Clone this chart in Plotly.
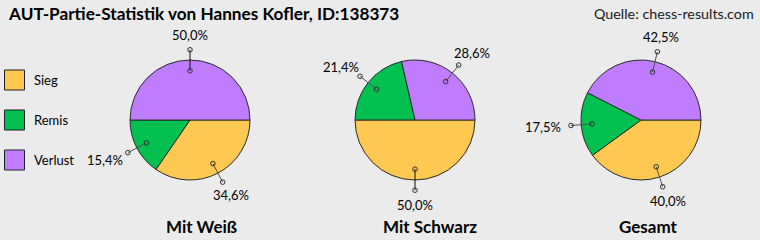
import math
import plotly.graph_objects as go

categories = ["Sieg", "Remis", "Verlust"]
colors = ["#FFC850", "#00C050", "#C07CFF"]
pie_titles = ["Mit Weiß", "Mit Schwarz", "Gesamt"]
values_weiss = [34.6, 15.4, 50.0]
values_schwarz = [50.0, 21.4, 28.6]
values_gesamt = [40.0, 17.5, 42.5]
title_text = "AUT-Partie-Statistik von Hannes Kofler, ID:138373"
source_text = "Quelle: chess-results.com"

W, H = 760, 240
FONT = "Lato"
series = [values_weiss, values_schwarz, values_gesamt]
centers = [(190, 120), (415, 120), (641, 120)]
subtitle_x = [201, 429.5, 648]
R = 60
DOT = 2.3

fig = go.Figure()

for vals, (cx, cy) in zip(series, centers):
    fig.add_trace(go.Pie(
        values=vals, labels=categories, sort=False, direction="clockwise",
        rotation=90, textinfo="none", hoverinfo="skip",
        marker=dict(colors=colors, line=dict(color="#2a2a2a", width=1)),
        domain=dict(x=[(cx - R) / W, (cx + R) / W], y=[(H - cy - R) / H, (H - cy + R) / H]),
        showlegend=False,
    ))

annotations = []
shapes = []
for vals, (cx, cy) in zip(series, centers):
    total = sum(vals)
    cum = 0.0
    for v in vals:
        mid = (cum + v / 2) / total * 2 * math.pi
        cum += v
        c, s = math.cos(mid), math.sin(mid)
        x1, y1 = cx + 0.82 * R * c, cy + 0.82 * R * s
        x2, y2 = cx + 1.17 * R * c, cy + 1.17 * R * s
        lc = "#101010" if abs(c) < 0.1 else "#505050"
        shapes.append(dict(type="line", xref="x", yref="y", x0=x1, y0=y1, x1=x2, y1=y2,
                           line=dict(color=lc, width=1), layer="above"))
        for px, py in ((x1, y1), (x2, y2)):
            shapes.append(dict(type="circle", xref="x", yref="y",
                               x0=px - DOT, x1=px + DOT, y0=py - DOT, y1=py + DOT,
                               line=dict(color="#303030", width=1), layer="above"))
        lx = x2 + c * (10 + 18 * abs(c))
        ly = y2 + s * 15
        annotations.append(dict(
            x=lx, y=ly, xref="x", yref="y", text=f"{v:.1f}%".replace(".", ","),
            showarrow=False, xanchor="center", yanchor="middle",
            font=dict(family=FONT, size=13, color="#000000"),
        ))

for t, sx in zip(pie_titles, subtitle_x):
    annotations.append(dict(
        x=sx, y=226, xref="x", yref="y", text=f"<b>{t}</b>", showarrow=False,
        xanchor="center", yanchor="middle",
        font=dict(family=FONT, size=17, color="#000000"),
    ))

for i, (cat, col) in enumerate(zip(categories, colors)):
    y0 = 70 + 40 * i
    shapes.append(dict(type="rect", xref="x", yref="y", x0=4.5, x1=24.5, y0=y0, y1=y0 + 20,
                       fillcolor=col, line=dict(color="#222222", width=1)))
    annotations.append(dict(
        x=32, y=y0 + 10, xref="x", yref="y", text=cat, showarrow=False,
        xanchor="left", yanchor="middle",
        font=dict(family=FONT, size=13, color="#000000"),
    ))

annotations.append(dict(
    x=6, y=13, xref="x", yref="y", text=f"<b>{title_text}</b>", showarrow=False,
    xanchor="left", yanchor="middle", font=dict(family=FONT, size=17.2, color="#000000"),
))
annotations.append(dict(
    x=756, y=13, xref="x", yref="y", text=source_text, showarrow=False,
    xanchor="right", yanchor="middle", font=dict(family=FONT, size=14.3, color="#1a1a1a"),
))

fig.update_layout(
    width=W, height=H, margin=dict(l=0, r=0, t=0, b=0),
    paper_bgcolor="#EBEBEB", plot_bgcolor="rgba(0,0,0,0)",
    xaxis=dict(range=[0, W], visible=False, fixedrange=True, domain=[0, 1]),
    yaxis=dict(range=[H, 0], visible=False, fixedrange=True, domain=[0, 1]),
    annotations=annotations, shapes=shapes,
)

fig.write_html("out.html", config={"displayModeBar": False})
